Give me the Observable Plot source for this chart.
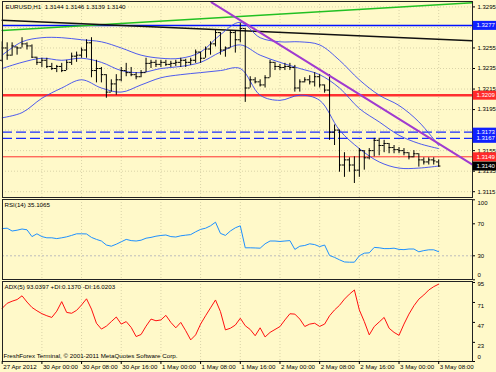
<!DOCTYPE html>
<html><head><meta charset="utf-8">
<script src="https://cdn.jsdelivr.net/npm/d3@7"></script>
<script src="https://cdn.jsdelivr.net/npm/@observablehq/plot@0.6"></script>
<style>
html,body{margin:0;padding:0;background:#fff;}
#chart{position:relative;width:496px;height:372px;background:#FFF9C9;overflow:hidden;}
#chart svg{position:absolute;left:0;}
</style></head><body><div id="chart"></div>
<script>
// ---- data (EURUSD H1, bar 0 = 27 Apr 2012 16:00) ----
const symbol = "EURUSD,H1";
const open = [1.3243,1.3255,1.3248,1.3256,1.3255,1.3259,1.3257,1.3246,1.3241,1.3243,
1.3237,1.3235,1.3237,1.3233,1.3241,1.3247,1.3248,1.3253,1.3260,1.3233,
1.3235,1.3229,1.3212,1.3220,1.3224,1.3233,1.3231,1.3229,1.3227,1.3231,
1.3240,1.3241,1.3239,1.3241,1.3239,1.3240,1.3241,1.3243,1.3241,1.3243,
1.3251,1.3245,1.3254,1.3259,1.3270,1.3253,1.3255,1.3270,1.3263,1.3274,
1.3216,1.3224,1.3222,1.3219,1.3226,1.3241,1.3237,1.3236,1.3237,1.3236,
1.3216,1.3222,1.3224,1.3222,1.3227,1.3219,1.3214,1.3173,1.3175,1.3141,
1.3146,1.3141,1.3136,1.3155,1.3148,1.3155,1.3165,1.3160,1.3162,1.3158,
1.3156,1.3155,1.3153,1.3149,1.3152,1.3146,1.3144,1.3146,1.3144];
const high = [1.3261,1.3260,1.3260,1.3256,1.3265,1.3260,1.3258,1.3246,1.3245,1.3245,
1.3240,1.3238,1.3240,1.3243,1.3250,1.3251,1.3255,1.3263,1.3265,1.3243,
1.3236,1.3229,1.3224,1.3229,1.3236,1.3240,1.3236,1.3231,1.3233,1.3245,
1.3243,1.3243,1.3243,1.3243,1.3242,1.3243,1.3245,1.3244,1.3245,1.3253,
1.3251,1.3256,1.3261,1.3272,1.3270,1.3256,1.3272,1.3272,1.3279,1.3274,
1.3227,1.3226,1.3224,1.3228,1.3243,1.3241,1.3239,1.3240,1.3240,1.3238,
1.3224,1.3226,1.3228,1.3231,1.3229,1.3219,1.3229,1.3180,1.3175,1.3153,
1.3148,1.3149,1.3157,1.3155,1.3157,1.3167,1.3167,1.3165,1.3162,1.3160,
1.3158,1.3157,1.3153,1.3155,1.3152,1.3148,1.3148,1.3148,1.3146];
const low = [1.3241,1.3243,1.3247,1.3248,1.3255,1.3253,1.3245,1.3238,1.3236,1.3235,
1.3233,1.3231,1.3231,1.3233,1.3238,1.3241,1.3245,1.3245,1.3226,1.3221,
1.3221,1.3206,1.3212,1.3209,1.3222,1.3227,1.3227,1.3224,1.3226,1.3231,
1.3235,1.3236,1.3236,1.3237,1.3236,1.3237,1.3236,1.3236,1.3238,1.3240,
1.3240,1.3245,1.3248,1.3256,1.3248,1.3246,1.3255,1.3250,1.3260,1.3202,
1.3216,1.3220,1.3217,1.3216,1.3226,1.3233,1.3233,1.3233,1.3233,1.3212,
1.3212,1.3221,1.3219,1.3217,1.3216,1.3211,1.3165,1.3160,1.3134,1.3129,
1.3134,1.3123,1.3129,1.3136,1.3146,1.3149,1.3150,1.3153,1.3152,1.3152,
1.3152,1.3150,1.3146,1.3148,1.3139,1.3141,1.3141,1.3141,1.3139];
const close = [1.3255,1.3248,1.3257,1.3255,1.3259,1.3257,1.3246,1.3241,1.3243,1.3237,
1.3235,1.3237,1.3233,1.3241,1.3247,1.3248,1.3253,1.3260,1.3233,1.3235,
1.3229,1.3212,1.3220,1.3224,1.3233,1.3231,1.3229,1.3227,1.3231,1.3240,
1.3241,1.3239,1.3241,1.3239,1.3240,1.3241,1.3243,1.3241,1.3243,1.3251,
1.3245,1.3254,1.3259,1.3270,1.3253,1.3255,1.3270,1.3263,1.3274,1.3216,
1.3224,1.3222,1.3219,1.3226,1.3241,1.3237,1.3236,1.3237,1.3236,1.3216,
1.3222,1.3224,1.3222,1.3227,1.3219,1.3214,1.3173,1.3175,1.3141,1.3146,
1.3141,1.3136,1.3155,1.3148,1.3155,1.3165,1.3160,1.3162,1.3158,1.3156,
1.3155,1.3153,1.3149,1.3152,1.3146,1.3144,1.3146,1.3145,1.3140];

// Bollinger bands read at every 4th bar
const bandBars = [0,4,8,12,16,20,24,28,32,36,40,44,48,52,56,60,64,68,72,76,80,84,88];
const bandUpper = [1.3248,1.3261,1.3265,1.3265,1.3263,1.3261,1.3255,1.3248,1.3245,1.3245,1.3251,1.3268,1.3280,1.3265,1.3261,1.3261,1.3258,1.3243,1.3224,1.3209,1.3199,1.3183,1.3160];
const bandMiddle = [1.3235,1.3241,1.3245,1.3243,1.3245,1.3241,1.3233,1.3231,1.3235,1.3237,1.3241,1.3251,1.3258,1.3248,1.3241,1.3235,1.3229,1.3216,1.3196,1.3183,1.3170,1.3162,1.3157];
const bandLower = [1.3187,1.3192,1.3206,1.3216,1.3224,1.3216,1.3212,1.3219,1.3226,1.3229,1.3231,1.3233,1.3235,1.3209,1.3204,1.3209,1.3204,1.3175,1.3157,1.3144,1.3138,1.3138,1.3140];

const rsi = [64,64.5,61,62,63.5,62.5,54,57.5,54,52.5,
52.5,51.5,52.5,53.7,55.5,57.5,57.5,57.3,53,50.5,
48.5,43.5,42,44.5,47.5,50.5,49,48.5,49.5,52,
53,54.5,55.4,56,54,53.5,55,55.8,56.5,60,
63,64.5,67.5,72,58,55.5,61,65,67.5,40,
40,39.8,39.5,45,48.5,48.5,47.9,48.5,49,38,
42,42.9,45,44,41.5,43.5,30.4,28,25,22.3,
22,22,30,33.3,33.7,40.5,40,39,39,39.5,
38,37.7,38.5,38.5,35,36.5,37.5,37.5,35.1065];
const adx = [64,70,72.5,74.5,79,71.5,65,61,57.5,55,
53,60.5,72,59,58,61.5,68,75.4,63,46,
39,42.5,48,53.5,45,48,41,30,32.5,42.5,
51,49,50,55.5,47,40.5,47,37,26,32,
45,55,64.5,74,60,38,40,43.8,52,43,
38.5,31,40.5,29.5,35,38.5,42,50,57.4,57,
51,42.1,45,46,42.2,45,55,62,67.5,75,
81,86,62,48,32,42,47.5,53,40,35,
31.5,45,57,67,75,80,86,90,93.0397];
const plusDI = 0.1370, minusDI = 16.0203;

// trendlines: [bar, price] end points
const greenLine = [[0,1.3272],[94.8,1.3299]];
const blackLine = [[0,1.3282],[94.8,1.3262]];
const purpleLine = [[42.2,1.32994],[94.8,1.31414]];
// horizontal levels
const blueLevel = 1.3277, redLevel = 1.3209, dashLevels = [1.3173, 1.3167], redThin = 1.3149;

const priceTicks = [1.3295,1.3275,1.3255,1.3235,1.3215,1.3195,1.3175,1.3155,1.3135,1.3115];
const priceLabels = [1.3295,1.3255,1.3235,1.3215,1.3195,1.3155,1.3135,1.3115];
const timeBars = [0,8,16,24,32,40,48,56,64,72,80,88];
const timeLabels = ["27 Apr 2012","30 Apr 00:00","30 Apr 08:00","30 Apr 16:00","1 May 00:00","1 May 08:00","1 May 16:00","2 May 00:00","2 May 08:00","2 May 16:00","3 May 00:00","3 May 08:00"];
const copyright = "FreshForex Terminal, \u00A9 2001-2011 MetaQuotes Software Corp.";

// ---- drawing ----
const last = close.length - 1;
const bars = close.map((c, i) => ({i, o: open[i], h: high[i], l: low[i], c}));
const band = (arr) => arr.map((v, k) => ({i: bandBars[k], v}));
const FONT = "'Liberation Sans', Arial, sans-serif";
const XS = {domain: [0, 88], range: [1.7, 438.2], axis: null};
const BOX = [94.95, 99.9]; // label box extent in bar units (right margin)
const st = {background: "none", fontFamily: FONT, fontSize: "6px", color: "#000"};
const chart = document.getElementById("chart");
function put(svg, top){ svg.style.top = top + "px"; chart.appendChild(svg); }

const BLUE = "#3a48f0";
const main = Plot.plot({
  width: 496, height: 198, marginLeft: 2, marginRight: 24, marginTop: 1, marginBottom: 1,
  style: st, x: XS,
  y: {domain: [1.3149, 1.3209], range: [156.3, 94.7], axis: null},
  marks: [
    Plot.ruleX(timeBars.slice(1), {stroke: "#d9d3a8", strokeDasharray: "1,2"}),
    Plot.ruleY(priceTicks, {stroke: "#d9d3a8", strokeDasharray: "1,2"}),
    Plot.ruleY([blueLevel], {stroke: "#0010ff", strokeWidth: 1.5}),
    Plot.ruleY([redLevel], {stroke: "#ff3030", strokeWidth: 2.5}),
    Plot.ruleY(dashLevels, {stroke: "#1a2cff", strokeDasharray: "10,4", strokeWidth: 1.2}),
    Plot.ruleY([redThin], {stroke: "#ff3030", strokeWidth: 1}),
    Plot.line(greenLine, {x: d => d[0], y: d => d[1], stroke: "#22c022", strokeWidth: 1.5}),
    Plot.line(blackLine, {x: d => d[0], y: d => d[1], stroke: "#111", strokeWidth: 1.5}),
    Plot.line(band(bandUpper), {x: "i", y: "v", stroke: BLUE, strokeWidth: 0.9, curve: "catmull-rom"}),
    Plot.line(band(bandMiddle), {x: "i", y: "v", stroke: BLUE, strokeWidth: 0.9, curve: "catmull-rom"}),
    Plot.line(band(bandLower), {x: "i", y: "v", stroke: BLUE, strokeWidth: 0.9, curve: "catmull-rom"}),
    Plot.ruleX(bars, {x: "i", y1: "l", y2: "h", stroke: "#000", strokeWidth: 1}),
    Plot.ruleY(bars, {y: "o", x1: d => d.i - 0.45, x2: "i", stroke: "#000"}),
    Plot.ruleY(bars, {y: "c", x1: "i", x2: d => d.i + 0.45, stroke: "#000"}),
    Plot.line(purpleLine, {x: d => d[0], y: d => d[1], stroke: "#a03ad0", strokeWidth: 2}),
    Plot.frame({stroke: "#222"}),
    Plot.axisY(priceTicks, {anchor: "right", tickSize: 2, tickFormat: () => ""}),
    Plot.text(priceLabels, {y: d => d, text: d => d.toFixed(4), frameAnchor: "right", textAnchor: "start", dx: 5, fontSize: 6}),
    Plot.ruleY([blueLevel, ...dashLevels], {x1: BOX[0], x2: BOX[1], stroke: "#1020ff", strokeWidth: 9}),
    Plot.ruleY([redLevel, redThin], {x1: BOX[0], x2: BOX[1], stroke: "#ff2a2a", strokeWidth: 9}),
    Plot.ruleY([close[last]], {x1: BOX[0], x2: BOX[1], stroke: "#000", strokeWidth: 9}),
    Plot.text([blueLevel, redLevel, ...dashLevels, redThin, close[last]], {y: d => d, text: d => d.toFixed(4), frameAnchor: "right", textAnchor: "start", dx: 4, fill: "#fff", fontSize: 6}),
    Plot.text([`${symbol}  ${open[last].toFixed(4)} ${high[last].toFixed(4)} ${low[last].toFixed(4)} ${close[last].toFixed(4)}`],
      {frameAnchor: "top-left", textAnchor: "start", lineAnchor: "middle", dx: 3, dy: 6, fontSize: 6.2})
  ]
});
put(main, 0);

const rsiPlot = Plot.plot({
  width: 496, height: 83, marginLeft: 2, marginRight: 24, marginTop: 1, marginBottom: 2,
  style: st, x: XS,
  y: {domain: [0, 100], range: [81.3, 1.3], axis: null},
  marks: [
    Plot.ruleX(timeBars.slice(1), {stroke: "#d9d3a8", strokeDasharray: "1,2"}),
    Plot.ruleY([30], {stroke: "#bdbdbd", strokeDasharray: "2,2"}),
    Plot.line(rsi, {x: (d, i) => i, y: d => d, stroke: "#1e90ff", strokeWidth: 1}),
    Plot.frame({stroke: "#222"}),
    Plot.axisY([100, 70, 30, 0], {anchor: "right", tickSize: 2, tickFormat: () => ""}),
    Plot.text([70, 30], {y: d => d, text: d => String(d), frameAnchor: "right", textAnchor: "start", dx: 5, fontSize: 6}),
    Plot.text([100], {y: d => d, text: d => String(d), frameAnchor: "right", textAnchor: "start", dx: 5, dy: 3, fontSize: 6}),
    Plot.text([0], {y: d => d, text: d => String(d), frameAnchor: "right", textAnchor: "start", dx: 5, dy: -5, fontSize: 6}),
    Plot.text([`RSI(14) ${rsi[last].toFixed(4)}`], {frameAnchor: "top-left", textAnchor: "start", lineAnchor: "middle", dx: 2, dy: 6, fontSize: 6.2})
  ]
});
put(rsiPlot, 198);

const adxPlot = Plot.plot({
  width: 496, height: 92, marginLeft: 2, marginRight: 24, marginTop: 1, marginBottom: 11,
  style: st, x: XS,
  y: {domain: [0, 95], range: [81, 2], axis: null},
  marks: [
    Plot.ruleX(timeBars.slice(1), {stroke: "#d9d3a8", strokeDasharray: "1,2"}),
    Plot.line(adx, {x: (d, i) => i, y: d => d, stroke: "#ff1010", strokeWidth: 1}),
    Plot.frame({stroke: "#222"}),
    Plot.axisY([95, 71, 47, 23, 0], {anchor: "right", tickSize: 2, tickFormat: () => ""}),
    Plot.text([71, 47, 23], {y: d => d, text: d => String(d), frameAnchor: "right", textAnchor: "start", dx: 5, dy: 4, fontSize: 6}),
    Plot.text([95], {y: d => d, text: d => String(d), frameAnchor: "right", textAnchor: "start", dx: 5, dy: 2, fontSize: 6}),
    Plot.text([0], {y: d => d, text: d => String(d), frameAnchor: "right", textAnchor: "start", dx: 5, dy: -4, fontSize: 6}),
    Plot.text([`ADX(5) ${adx[last].toFixed(4)} +DI:${plusDI.toFixed(4)} -DI:${minusDI.toFixed(4)}`], {frameAnchor: "top-left", textAnchor: "start", lineAnchor: "middle", dx: 2, dy: 6, fontSize: 6.2}),
    Plot.text([copyright], {frameAnchor: "bottom-left", textAnchor: "start", lineAnchor: "middle", dx: 1, dy: -5, fontSize: 6.2}),
    Plot.axisX(timeBars, {anchor: "bottom", tickSize: 3, tickFormat: () => ""}),
    Plot.text(timeBars, {x: d => d, text: (d, k) => timeLabels[k], frameAnchor: "bottom", textAnchor: "start", lineAnchor: "middle", dx: 1, dy: 6, fontSize: 6.2})
  ]
});
put(adxPlot, 280);
</script></body></html>
